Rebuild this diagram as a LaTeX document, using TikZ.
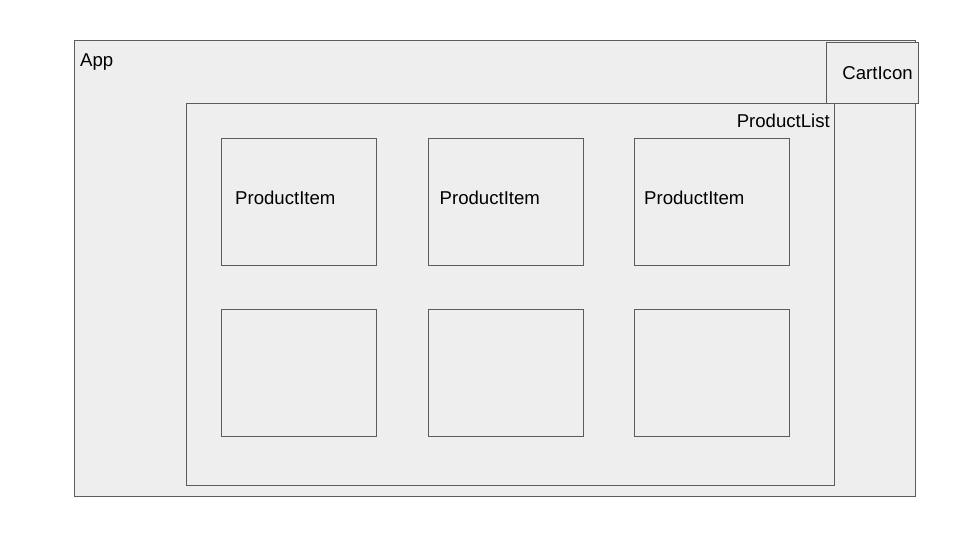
\documentclass[tikz,border=0pt]{standalone}
\usepackage{fontspec}
\setmainfont{Liberation Sans}
\definecolor{boxline}{HTML}{5C5C5C}
\definecolor{boxfill}{HTML}{EEEEEE}
\tikzstyle{box}=[draw=boxline,fill=boxfill,line width=1.1pt,inner sep=0pt,anchor=north west]
\tikzstyle{every node}=[font=\fontsize{18.6}{22}\selectfont]

\begin{document}
\begin{tikzpicture}[x=1pt,y=-1pt]
    \useasboundingbox (0,0) rectangle (960,540);
    \node[box,minimum width=841pt,minimum height=456pt] (app) at (74,40) {};
    \node[anchor=base west,inner sep=0pt] (applbl) at (80,67) {App};
    \node[box,minimum width=648pt,minimum height=382pt] (list) at (186,103) {};
    \node[box,minimum width=92pt,minimum height=61pt] (cart) at (826,42) {};
    \node[inner sep=0pt] (cartlbl) at ([xshift=5pt]cart.center) {CartIcon};
    \node[anchor=east,inner sep=0pt] (listlbl) at (830,121) {ProductList};
    \foreach \c in {0,1,2}
      \foreach \r in {0,1}
        \node[box,minimum width=155pt,minimum height=127pt] (item\c\r) at (221+206.5*\c,138+171*\r) {};
    \foreach \c/\dx in {0/14,1/12,2/10}
      \node[anchor=west,inner sep=0pt] (itemlbl\c) at ([xshift=\dx pt]item\c0.west |- 0,198) {ProductItem};
  \end{tikzpicture}
\end{document}
